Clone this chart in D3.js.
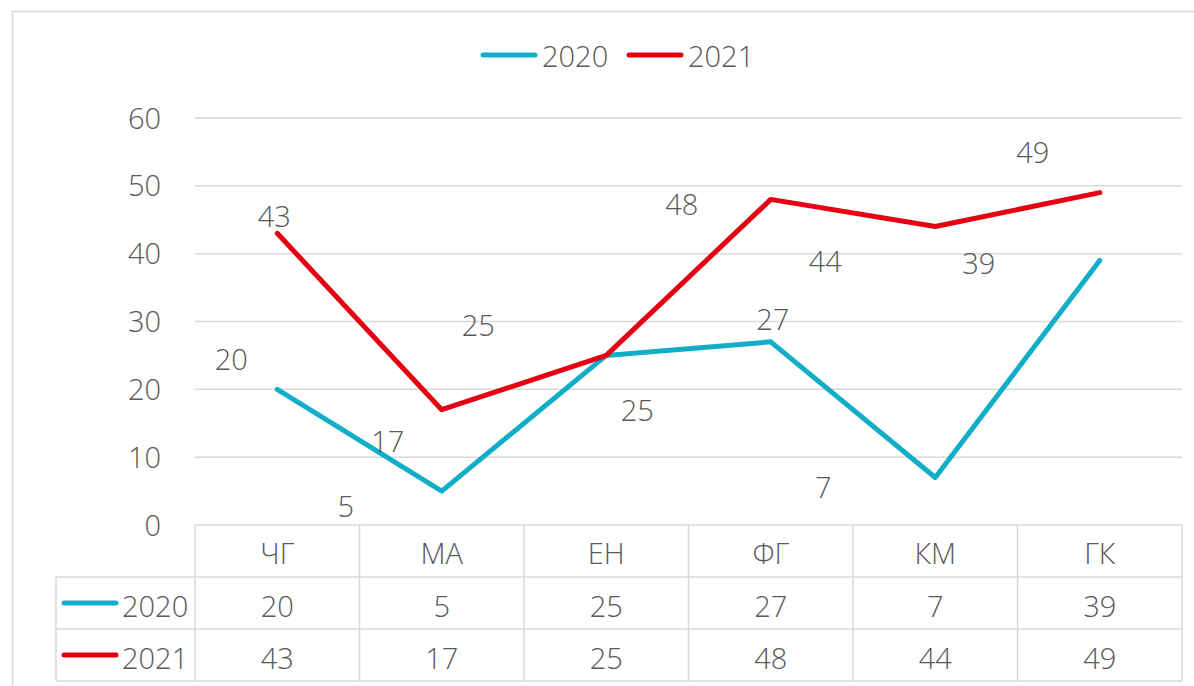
<!DOCTYPE html>
<html>
<head>
<meta charset="utf-8">
<script src="https://cdn.jsdelivr.net/npm/d3@7"></script>
<style>
  body { margin: 0; background: #fff; }
  text { font-family: "Open Sans", "Noto Sans", sans-serif; font-weight: 300; fill: #595959; }
</style>
</head>
<body>
<div id="chart"></div>
<script>
// data
var categories = ["ЧГ", "МА", "ЕН", "ФГ", "КМ", "ГК"];
var seriesNames = ["2020", "2021"];
var values2020 = [20, 5, 25, 27, 7, 39];
var values2021 = [43, 17, 25, 48, 44, 49];
var yTicks = [0, 10, 20, 30, 40, 50, 60];

// label placement (px offsets from each point, as Excel left them)
var labelDx2020 = [-46, -96, 31, 2, -112, -121];
var labelDy2020 = [-29, 16, 55, -22, 10, 3];
var labelDx2021 = [-3, -54, -128, -89, -110, -67];
var labelDy2021 = [-16, 32, -30, 5, 35, -40];

var colors = ["#12aec8", "#e50012"];
var width = 1194, height = 686;
var fontSize = 29;

var series = [
  {name: seriesNames[0], values: values2020, dx: labelDx2020, dy: labelDy2020, color: colors[0]},
  {name: seriesNames[1], values: values2021, dx: labelDx2021, dy: labelDy2021, color: colors[1]}
];

var svg = d3.select("#chart").append("svg")
  .attr("width", width)
  .attr("height", height);

// outer chart border
svg.append("rect")
  .attr("x", 12.5).attr("y", 11.5)
  .attr("width", 1200).attr("height", 700)
  .attr("fill", "none")
  .attr("stroke", "#d9d9d9")
  .attr("stroke-width", 1.5);

var x = d3.scaleBand()
  .domain(categories)
  .range([195, 1182])
  .padding(0);

var y = d3.scaleLinear()
  .domain([0, 60])
  .range([525, 118]);

function cx(c) { return x(c) + x.bandwidth() / 2; }

//gridlines
svg.append("g")
  .selectAll("line")
  .data(yTicks.filter(function(d) { return d > 0; }))
  .enter().append("line")
  .attr("x1", 195).attr("x2", 1182)
  .attr("y1", function(d) { return y(d); })
  .attr("y2", function(d) { return y(d); })
  .attr("stroke", "#d9d9d9")
  .attr("stroke-width", 1.5);

//y axis labels
var yAxis = d3.axisLeft(y).tickValues(yTicks).tickSize(0).tickPadding(34);
var yg = svg.append("g")
  .attr("transform", "translate(195,0)")
  .call(yAxis);
yg.select(".domain").remove();
yg.selectAll("text")
  .attr("font-size", fontSize)
  .attr("font-family", null)
  .attr("fill", null)
  .attr("dy", "0.35em");

//data table
var rowTop = 525, rowH = 52;
var tg = svg.append("g")
  .attr("stroke", "#d9d9d9")
  .attr("stroke-width", 1.5);

// horizontal lines
tg.append("line").attr("x1", 195).attr("x2", 1182).attr("y1", rowTop).attr("y2", rowTop);
[1, 2, 3].forEach(function(i) {
  tg.append("line").attr("x1", 56).attr("x2", 1182)
    .attr("y1", rowTop + i * rowH).attr("y2", rowTop + i * rowH);
});
// vertical lines
tg.append("line").attr("x1", 56).attr("x2", 56).attr("y1", rowTop + rowH).attr("y2", rowTop + 3 * rowH);
categories.forEach(function(c) {
  tg.append("line").attr("x1", x(c)).attr("x2", x(c)).attr("y1", rowTop).attr("y2", rowTop + 3 * rowH);
});
tg.append("line").attr("x1", 1182).attr("x2", 1182).attr("y1", rowTop).attr("y2", rowTop + 3 * rowH);

// category header
svg.append("g").selectAll("text")
  .data(categories)
  .enter().append("text")
  .attr("x", cx)
  .attr("y", rowTop + rowH / 2 + 3)
  .attr("dy", "0.35em")
  .attr("text-anchor", "middle")
  .attr("font-size", fontSize)
  .text(function(d) { return d; });

// series rows
series.forEach(function(s, i) {
  var ry = rowTop + (i + 1) * rowH + rowH / 2;
  svg.append("line")
    .attr("x1", 64).attr("x2", 116)
    .attr("y1", ry).attr("y2", ry)
    .attr("stroke", s.color)
    .attr("stroke-width", 5)
    .attr("stroke-linecap", "round");
  svg.append("text")
    .attr("x", 122).attr("y", ry + 4)
    .attr("dy", "0.35em")
    .attr("font-size", fontSize)
    .text(s.name);
  svg.append("g").selectAll("text")
    .data(s.values)
    .enter().append("text")
    .attr("x", function(d, j) { return cx(categories[j]); })
    .attr("y", ry + 4)
    .attr("dy", "0.35em")
    .attr("text-anchor", "middle")
    .attr("font-size", fontSize)
    .text(function(d) { return d; });
});

//lines
var line = d3.line()
  .x(function(d, j) { return cx(categories[j]); })
  .y(function(d) { return y(d); });

series.forEach(function(s) {
  svg.append("path")
    .datum(s.values)
    .attr("d", line)
    .attr("fill", "none")
    .attr("stroke", s.color)
    .attr("stroke-width", 5)
    .attr("stroke-linecap", "round")
    .attr("stroke-linejoin", "round");
});

//data labels
series.forEach(function(s) {
  svg.append("g").selectAll("text")
    .data(s.values)
    .enter().append("text")
    .attr("x", function(d, j) { return cx(categories[j]) + s.dx[j]; })
    .attr("y", function(d, j) { return y(d) + s.dy[j]; })
    .attr("dy", "0.35em")
    .attr("text-anchor", "middle")
    .attr("font-size", fontSize)
    .text(function(d) { return d; });
});

//legend
var legend = svg.append("g");
var legendX = [483, 629];
series.forEach(function(s, i) {
  legend.append("line")
    .attr("x1", legendX[i]).attr("x2", legendX[i] + 52)
    .attr("y1", 55).attr("y2", 55)
    .attr("stroke", s.color)
    .attr("stroke-width", 5)
    .attr("stroke-linecap", "round");
  legend.append("text")
    .attr("x", legendX[i] + 59).attr("y", 57)
    .attr("dy", "0.35em")
    .attr("font-size", fontSize)
    .text(s.name);
});
</script>
</body>
</html>
